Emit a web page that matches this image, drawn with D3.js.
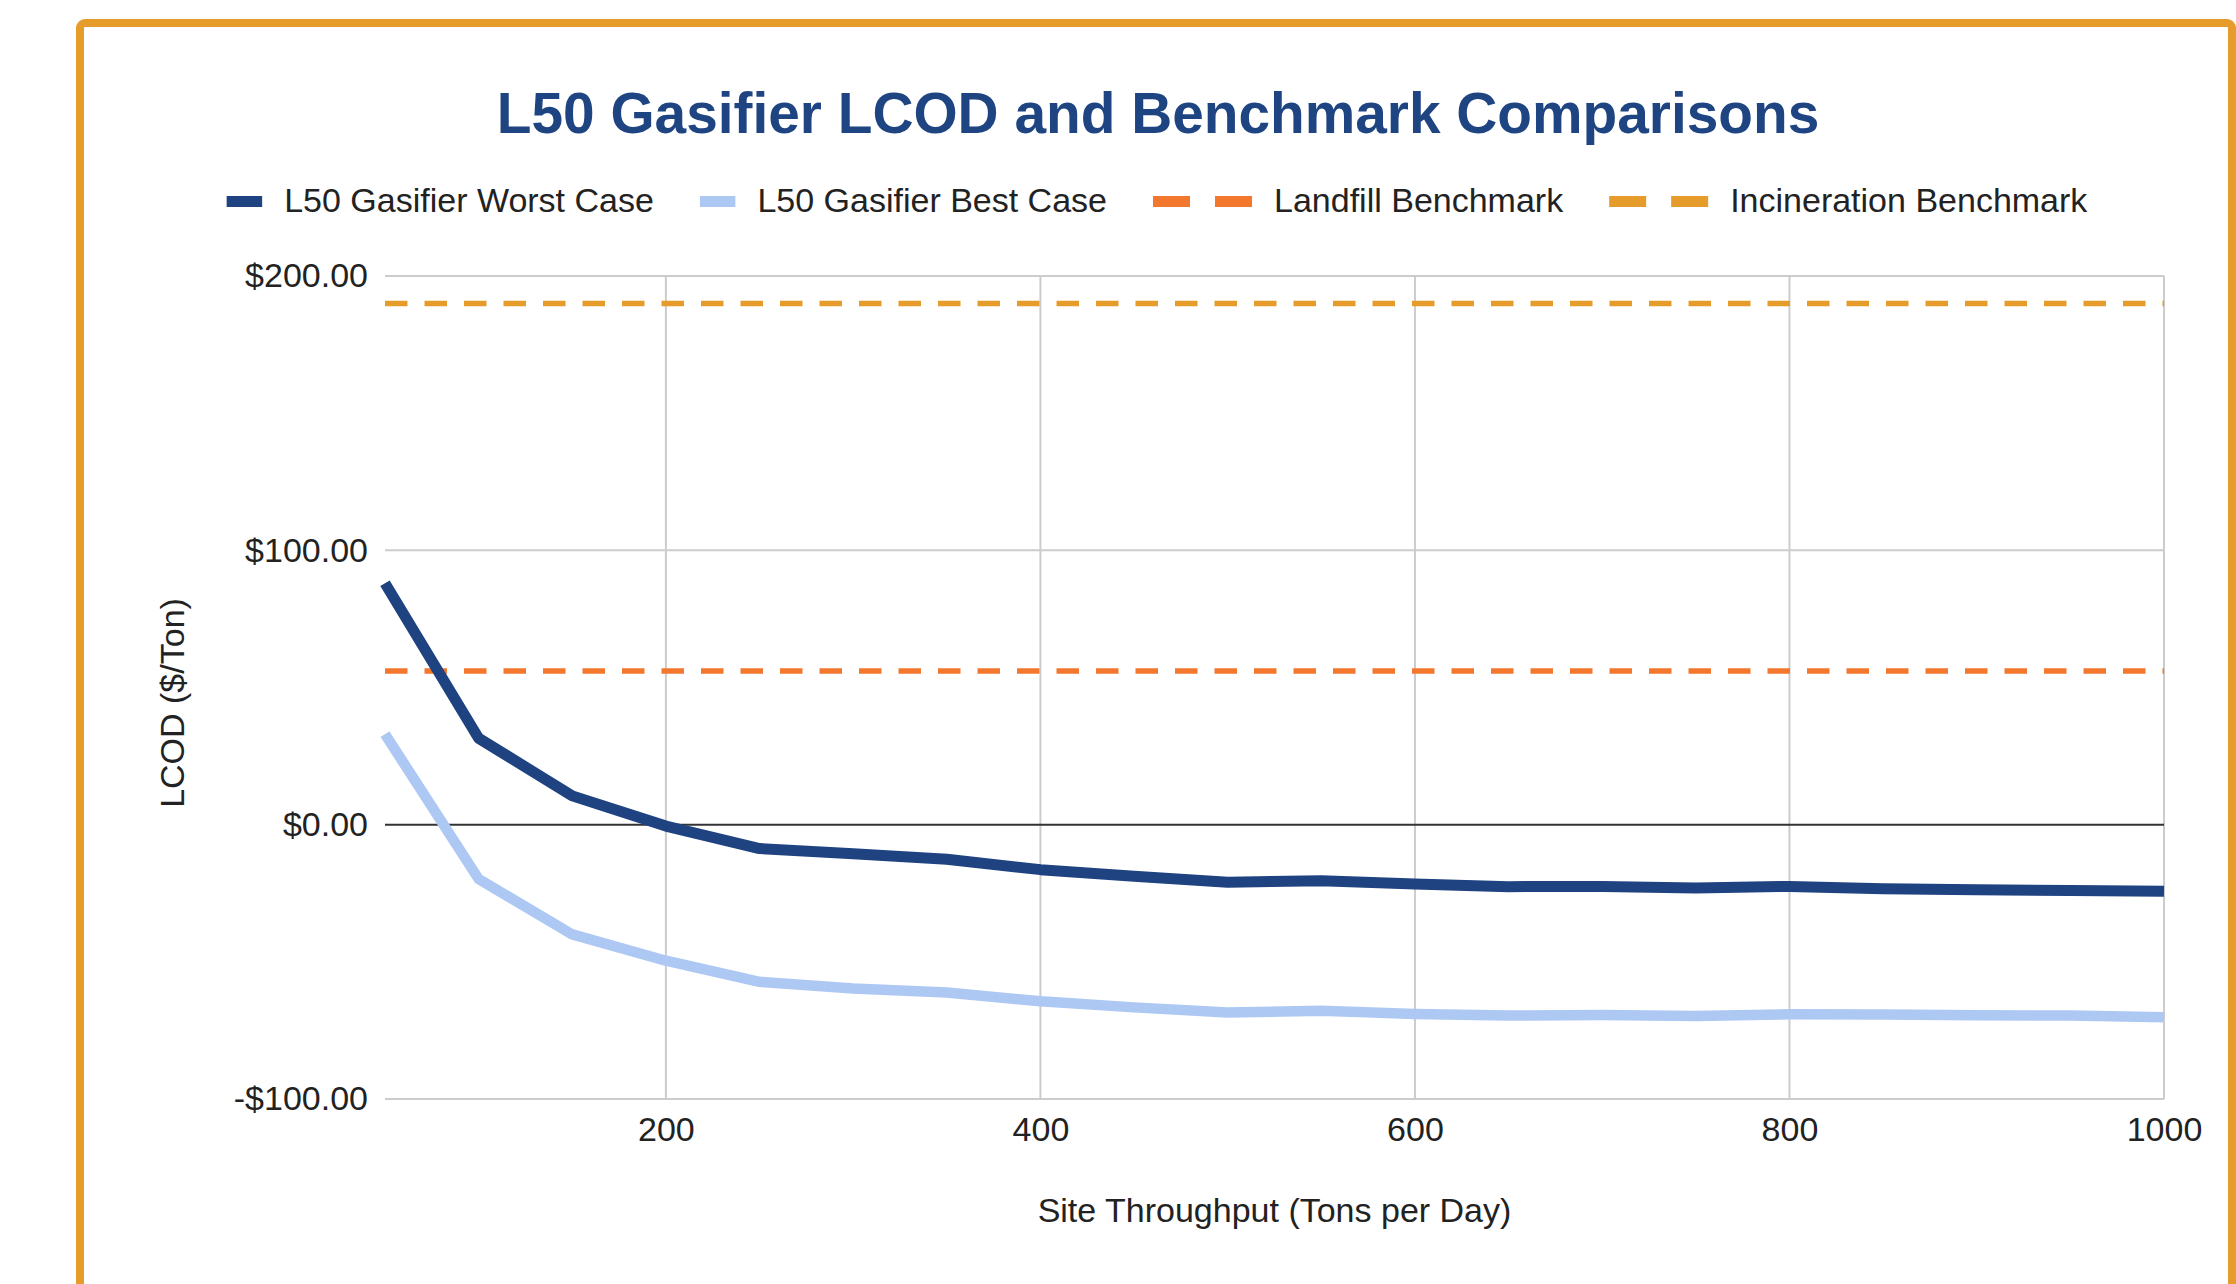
<!DOCTYPE html>
<html>
<head>
<meta charset="utf-8">
<script src="https://cdn.jsdelivr.net/npm/d3@7"></script>
<style>
  html, body { margin: 0; padding: 0; background: #ffffff; overflow: hidden; }
  svg { display: block; }
  text { font-family: "Liberation Sans", Arial, sans-serif; }
</style>
</head>
<body>
<script>
// ---------- DATA ----------
const throughput = [50, 100, 150, 200, 250, 300, 350, 400, 450, 500, 550, 600, 650, 700, 750, 800, 850, 900, 950, 1000];
const worstCase  = [88, 31.5, 10.5, -0.5, -8.7, -10.6, -12.6, -16.4, -18.8, -21, -20.4, -21.6, -22.6, -22.5, -23.1, -22.5, -23.4, -23.7, -24, -24.3];
const bestCase   = [33, -19.8, -40, -49.6, -57.3, -59.7, -61.2, -64.4, -66.6, -68.5, -67.8, -69, -69.6, -69.4, -69.7, -69.1, -69.2, -69.5, -69.6, -70.2];
const landfillBenchmark = 56;
const incinerationBenchmark = 190;
const yTicks = [-100, 0, 100, 200];
const xTicks = [200, 400, 600, 800, 1000];
const seriesNames = ["L50 Gasifier Worst Case", "L50 Gasifier Best Case", "Landfill Benchmark", "Incineration Benchmark"];
const titleText = "L50 Gasifier LCOD and Benchmark Comparisons";
const xTitle = "Site Throughput (Tons per Day)";
const yTitle = "LCOD ($/Ton)";

// ---------- STYLE ----------
const W = 2236, H = 1284;
const colors = { worst: "#1f4280", best: "#aec8f4", landfill: "#f4772e", incin: "#e59c2a", frame: "#e69c2a", title: "#1f4482" };

const svg = d3.select("body").append("svg").attr("width", W).attr("height", H);
svg.append("rect").attr("width", W).attr("height", H).attr("fill", "#fff");

// frame
svg.append("rect")
  .attr("x", 80).attr("y", 23).attr("width", 2152).attr("height", 1320)
  .attr("rx", 5).attr("fill", "none").attr("stroke", colors.frame).attr("stroke-width", 8);

const x = d3.scaleLinear().domain([50, 1000]).range([385, 2164]);
const y = d3.scaleLinear().domain([-100, 200]).range([1099, 276]);

// gridlines
const grid = svg.append("g");
grid.selectAll("line.h").data(yTicks.filter(d => d !== 0)).enter().append("line")
  .attr("x1", x(50)).attr("x2", x(1000)).attr("y1", d => y(d)).attr("y2", d => y(d))
  .attr("stroke", "#cccccc").attr("stroke-width", 2);
grid.selectAll("line.v").data(xTicks).enter().append("line")
  .attr("x1", d => x(d)).attr("x2", d => x(d)).attr("y1", y(200)).attr("y2", y(-100))
  .attr("stroke", "#cccccc").attr("stroke-width", 2);
grid.append("line")
  .attr("x1", x(50)).attr("x2", x(1000)).attr("y1", y(0)).attr("y2", y(0))
  .attr("stroke", "#333333").attr("stroke-width", 2);

// axes (labels only)
const fmt = v => (v < 0 ? "-$" : "$") + d3.format(",.2f")(Math.abs(v));
const yAxis = svg.append("g").attr("transform", `translate(${x(50)},0)`)
  .call(d3.axisLeft(y).tickValues(yTicks).tickFormat(fmt).tickSize(0).tickPadding(17));
const xAxis = svg.append("g").attr("transform", `translate(0,${y(-100)})`)
  .call(d3.axisBottom(x).tickValues(xTicks).tickFormat(d3.format("d")).tickSize(0).tickPadding(18));
[yAxis, xAxis].forEach(a => {
  a.select(".domain").remove();
  a.selectAll("text").attr("font-size", 34).attr("fill", "#222").attr("font-family", '"Liberation Sans", Arial, sans-serif');
});

// benchmark lines
const benchLine = v => d3.line().x(d => x(d)).y(() => y(v))([throughput[0], throughput[throughput.length - 1]]);
svg.append("path").attr("d", benchLine(incinerationBenchmark))
  .attr("fill", "none").attr("stroke", colors.incin).attr("stroke-width", 5.5).attr("stroke-dasharray", "22.5 17");
svg.append("path").attr("d", benchLine(landfillBenchmark))
  .attr("fill", "none").attr("stroke", colors.landfill).attr("stroke-width", 5.5).attr("stroke-dasharray", "22.5 17");

// series lines
const line = d3.line().x((d, i) => x(throughput[i])).y(d => y(d));
svg.append("path").attr("d", line(bestCase))
  .attr("fill", "none").attr("stroke", colors.best).attr("stroke-width", 10.5).attr("stroke-linejoin", "round");
svg.append("path").attr("d", line(worstCase))
  .attr("fill", "none").attr("stroke", colors.worst).attr("stroke-width", 11).attr("stroke-linejoin", "round");

// title
svg.append("text").attr("x", 1158).attr("y", 133).attr("text-anchor", "middle")
  .attr("font-size", 56.8).attr("font-weight", "bold").attr("fill", colors.title).text(titleText);

// axis titles
svg.append("text").attr("x", x(525)).attr("y", 1222).attr("text-anchor", "middle")
  .attr("font-size", 34).attr("fill", "#222").text(xTitle);
svg.append("text").attr("transform", "translate(184,703) rotate(-90)").attr("text-anchor", "middle")
  .attr("font-size", 34).attr("fill", "#222").text(yTitle);

// legend
const legendItems = [
  { name: seriesNames[0], color: colors.worst, dashed: false },
  { name: seriesNames[1], color: colors.best, dashed: false },
  { name: seriesNames[2], color: colors.landfill, dashed: true },
  { name: seriesNames[3], color: colors.incin, dashed: true }
];
const legend = svg.append("g");
const markerGap = 22, itemGap = 46, dashW = 37, dashGap = 25;
let cursor = 0;
legendItems.forEach(it => {
  const g = legend.append("g").attr("transform", `translate(${cursor},0)`);
  let mw;
  if (it.dashed) {
    g.append("rect").attr("x", 0).attr("y", 196).attr("width", dashW).attr("height", 11).attr("fill", it.color);
    g.append("rect").attr("x", dashW + dashGap).attr("y", 196).attr("width", dashW).attr("height", 11).attr("fill", it.color);
    mw = dashW * 2 + dashGap;
  } else {
    g.append("rect").attr("x", 0).attr("y", 196).attr("width", 35.5).attr("height", 11).attr("fill", it.color);
    mw = 35.5;
  }
  const t = g.append("text").attr("x", mw + markerGap).attr("y", 211.5).attr("font-size", 34).attr("fill", "#222").text(it.name);
  cursor += mw + markerGap + t.node().getComputedTextLength() + itemGap;
});
const legendW = cursor - itemGap;
legend.attr("transform", `translate(${1157 - legendW / 2},0)`);
</script>
</body>
</html>
